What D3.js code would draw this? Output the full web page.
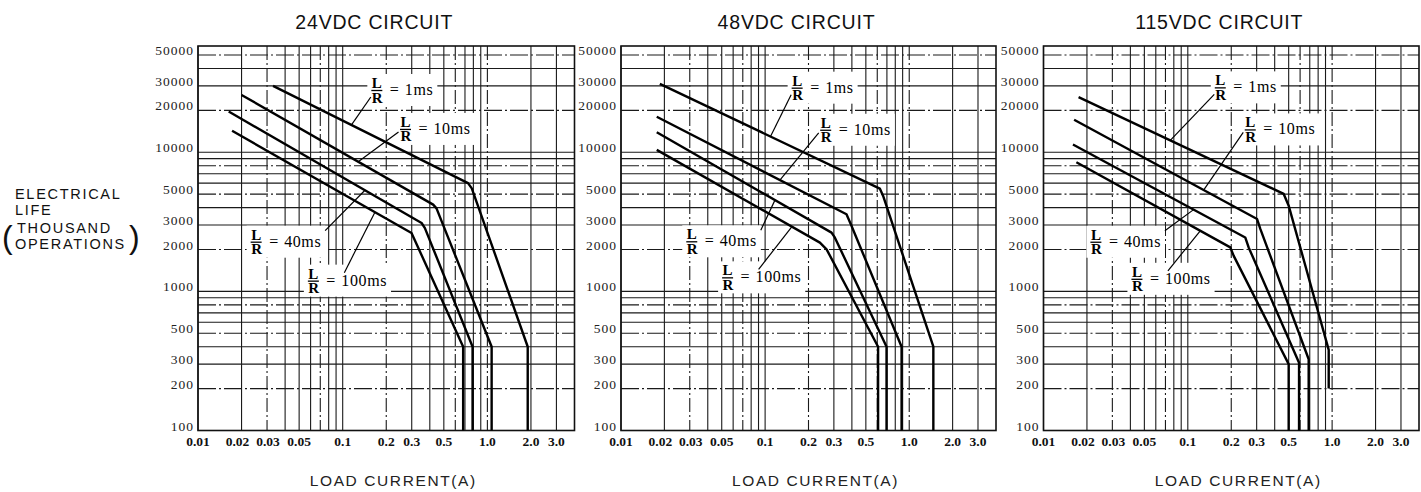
<!DOCTYPE html>
<html>
<head>
<meta charset="utf-8">
<script src="https://cdn.jsdelivr.net/npm/d3@7"></script>
<style>
  body { margin: 0; background: #fff; }
</style>
</head>
<body>
<div class="chart"></div>
<script>
// panel titles and curve names
const panelTitles = ["24VDC CIRCUIT", "48VDC CIRCUIT", "115VDC CIRCUIT"];
const seriesNames = ["1ms", "10ms", "40ms", "100ms"];

// life curves per circuit: [load current (A), life (thousand operations)]
const curves24 = [
  [[0.033, 30000], [0.735, 6000], [0.78, 5500], [1.9, 400], [1.9, 100]],
  [[0.020, 25800], [0.422, 4200], [0.445, 3950], [1.07, 400], [1.07, 100]],
  [[0.0163, 19600], [0.351, 3100], [0.37, 2850], [0.79, 400], [0.79, 100]],
  [[0.0172, 14250], [0.299, 2625], [0.31, 2420], [0.68, 400], [0.68, 100]]
];
const curves48 = [
  [[0.0186, 31000], [0.625, 5480], [0.659, 4850], [1.47, 400], [1.47, 100]],
  [[0.0177, 18000], [0.367, 3580], [0.398, 2950], [0.885, 400], [0.885, 100]],
  [[0.0177, 13900], [0.289, 2645], [0.305, 2430], [0.696, 400], [0.696, 100]],
  [[0.0177, 10400], [0.240, 2240], [0.267, 2005], [0.608, 400], [0.608, 100]]
];
const curves115 = [
  [[0.0175, 24900], [0.462, 5015], [0.50, 4130], [0.947, 380], [0.947, 200]],
  [[0.0163, 17100], [0.302, 3310], [0.318, 2810], [0.688, 325], [0.688, 100]],
  [[0.016, 11360], [0.250, 2440], [0.264, 2070], [0.59, 307], [0.59, 100]],
  [[0.0169, 8470], [0.197, 2070], [0.208, 1800], [0.50, 300], [0.50, 100]]
];

// axis ticks
const yTicks = [100, 200, 300, 500, 1000, 2000, 3000, 5000, 10000, 20000, 30000, 50000];
const xTicks = [0.01, 0.02, 0.03, 0.05, 0.1, 0.2, 0.3, 0.5, 1.0, 2.0, 3.0];
const xTickLabels = ["0.01", "0.02", "0.03", "0.05", "0.1", "0.2", "0.3", "0.5", "1.0", "2.0", "3.0"];

// L/R labels: label anchor in data units, leader target current (on the curve)
const labels24 = [[0.159, 28000, 0.115], [0.251, 14700, 0.128], [0.0233, 2275, 0.1425], [0.0579, 1194, 0.167]];
const labels48 = [[0.154, 29100, 0.109], [0.243, 14500, 0.1266], [0.0286, 2290, 0.117], [0.0507, 1261, 0.1535]];
const labels115 = [[0.155, 29250, 0.0756], [0.250, 14580, 0.1287], [0.0213, 2273, 0.1097], [0.041, 1231, 0.122]];

(function () {
    const svgWidth = 1421, svgHeight = 492;

    const panels = [
        { title: panelTitles[0], curves: curves24, labels: labels24, left: 198, right: 574.5 },
        { title: panelTitles[1], curves: curves48, labels: labels48, left: 621, right: 996 },
        { title: panelTitles[2], curves: curves115, labels: labels115, left: 1043.5, right: 1419 }
    ];
    const top = 46, bottom = 430.5;

    // where the leader line leaves each label (px from the label anchor)
    const leaderStart = [[-1, 7], [-2, 3], [74, -11], [36, -8]];
    // nudge for the crowded 0.02 / 0.03 tick labels
    const xLabelNudge = [0, -4, 1, 0, 0, 0, 0, 0, 0, 0, 0];

    const svg = d3.select(".chart")
        .append("svg")
        .attr("width", svgWidth)
        .attr("height", svgHeight)
        .style("font-family", "'Liberation Sans', Arial, sans-serif");

    // y axis title at far left
    const yTitle = svg.append("g").attr("fill", "#111")
        .style("font-size", "14.5px").style("letter-spacing", "1.7px");
    [["ELECTRICAL", 199], ["LIFE", 215], ["THOUSAND", 233], ["OPERATIONS", 249]].forEach(function (t) {
        yTitle.append("text").attr("x", t[0] === "THOUSAND" ? 17 : 15).attr("y", t[1]).text(t[0]);
    });
    yTitle.append("text").attr("x", 2).attr("y", 248).style("font-size", "32px")
        .style("font-weight", "200").text("(");
    yTitle.append("text").attr("x", 129).attr("y", 248).style("font-size", "32px")
        .style("font-weight", "200").text(")");

    panels.forEach(function (p) {
        const x = d3.scaleLog().domain([0.01, 4]).range([p.left, p.right]);
        const y = d3.scaleLog().domain([100, 58000]).range([bottom, top]);
        const g = svg.append("g");

        // Step 1: grid lines on every 1..9 of each decade
        const xGrid = [], yGrid = [];
        [0.01, 0.1, 1].forEach(d => { for (let k = 1; k <= 9; k++) if (d * k <= 3.01) xGrid.push(d * k); });
        [100, 1000, 10000].forEach(d => { for (let k = 1; k <= 9; k++) if (d * k <= 50000) yGrid.push(d * k); });

        g.selectAll("line.vg").data(xGrid).enter().append("line")
            .attr("class", "vg")
            .attr("x1", d => x(d)).attr("x2", d => x(d))
            .attr("y1", top).attr("y2", bottom)
            .attr("stroke", "#1a1a1a").attr("stroke-width", 1.1)
            .attr("stroke-dasharray", (d, i) => (i % 4 === 2 ? "14,3,2,3" : null));

        g.selectAll("line.hg").data(yGrid).enter().append("line")
            .attr("class", "hg")
            .attr("x1", p.left).attr("x2", p.right)
            .attr("y1", d => y(d)).attr("y2", d => y(d))
            .attr("stroke", "#1a1a1a").attr("stroke-width", 1.1)
            .attr("stroke-dasharray", (d, i) => (i % 3 === 1 ? "18,3,2,3" : null));

        g.append("rect")
            .attr("x", p.left).attr("y", top)
            .attr("width", p.right - p.left).attr("height", bottom - top)
            .attr("fill", "none").attr("stroke", "#111").attr("stroke-width", 1.6);

        // Step 2: tick labels
        g.selectAll("text.yt").data(yTicks).enter().append("text")
            .attr("class", "yt")
            .attr("x", p.left - 4).attr("y", d => y(d) - 3)
            .attr("text-anchor", "end").attr("dominant-baseline", "middle")
            .style("font-family", "'Liberation Serif', 'DejaVu Serif', serif")
            .style("font-size", "13.5px").style("letter-spacing", "1px")
            .attr("fill", "#222")
            .text(d => d);

        g.selectAll("text.xt").data(xTicks).enter().append("text")
            .attr("class", "xt")
            .attr("x", (d, i) => x(d) + xLabelNudge[i]).attr("y", bottom + 15)
            .attr("text-anchor", "middle")
            .style("font-family", "'Liberation Serif', 'DejaVu Serif', serif")
            .style("font-size", "13.5px").style("font-weight", "bold")
            .attr("fill", "#111")
            .text((d, i) => xTickLabels[i]);

        // Step 3: titles
        g.append("text")
            .attr("x", (p.left + p.right) / 2 - 12).attr("y", 29)
            .attr("text-anchor", "middle")
            .style("font-size", "19.5px").style("letter-spacing", "0.8px")
            .attr("fill", "#111")
            .text(p.title);

        g.append("text")
            .attr("x", (p.left + p.right) / 2 + 7).attr("y", 486)
            .attr("text-anchor", "middle")
            .style("font-size", "15.5px").style("letter-spacing", "1.6px")
            .attr("fill", "#222")
            .text("LOAD CURRENT(A)");

        // Step 4: curves
        const line = d3.line().x(d => x(d[0])).y(d => y(d[1]));
        g.selectAll("path.curve").data(p.curves).enter().append("path")
            .attr("class", "curve")
            .attr("d", line)
            .attr("fill", "none").attr("stroke", "#000")
            .attr("stroke-width", 2.4).attr("stroke-linejoin", "round");

        // Step 5: L/R labels with leader lines
        function curveAt(series, xv) {
            for (let i = 0; i < series.length - 1; i++) {
                const a = series[i], b = series[i + 1];
                if (xv >= a[0] && xv <= b[0] && a[0] !== b[0]) {
                    const t = Math.log(xv / a[0]) / Math.log(b[0] / a[0]);
                    return Math.exp(Math.log(a[1]) + t * Math.log(b[1] / a[1]));
                }
            }
            return series[0][1];
        }

        p.labels.forEach(function (lab, i) {
            const lx = x(lab[0]), ly = y(lab[1]);
            const lg = g.append("g").attr("transform", `translate(${lx},${ly})`);
            const bg = lg.append("rect").attr("fill", "#fff");
            const serif = "'Liberation Serif', 'DejaVu Serif', serif";

            lg.append("text").attr("x", 0).attr("y", -2)
                .style("font-family", serif).style("font-size", "15px").style("font-weight", "bold")
                .attr("fill", "#000").text("L");
            lg.append("line").attr("x1", -0.5).attr("x2", 10.5).attr("y1", 0.5).attr("y2", 0.5)
                .attr("stroke", "#000").attr("stroke-width", 1.3);
            lg.append("text").attr("x", 0).attr("y", 12.5)
                .style("font-family", serif).style("font-size", "15px").style("font-weight", "bold")
                .attr("fill", "#000").text("R");
            lg.append("text").attr("x", 18).attr("y", 5)
                .style("font-family", serif).style("font-size", "16px")
                .attr("fill", "#000").text("=");
            lg.append("text").attr("x", 33).attr("y", 5)
                .style("font-family", serif).style("font-size", "16px").style("letter-spacing", "0.6px")
                .attr("fill", "#000").text(seriesNames[i]);

            const bb = lg.node().getBBox();
            bg.attr("x", bb.x - 4).attr("y", -16)
                .attr("width", bb.width + 8).attr("height", 32);

            const s = leaderStart[i];
            const tx = lab[2];
            g.append("line")
                .attr("x1", lx + s[0]).attr("y1", ly + s[1])
                .attr("x2", x(tx)).attr("y2", y(curveAt(p.curves[i], tx)))
                .attr("stroke", "#000").attr("stroke-width", 1.2);
        });
    });
})();
</script>
</body>
</html>
